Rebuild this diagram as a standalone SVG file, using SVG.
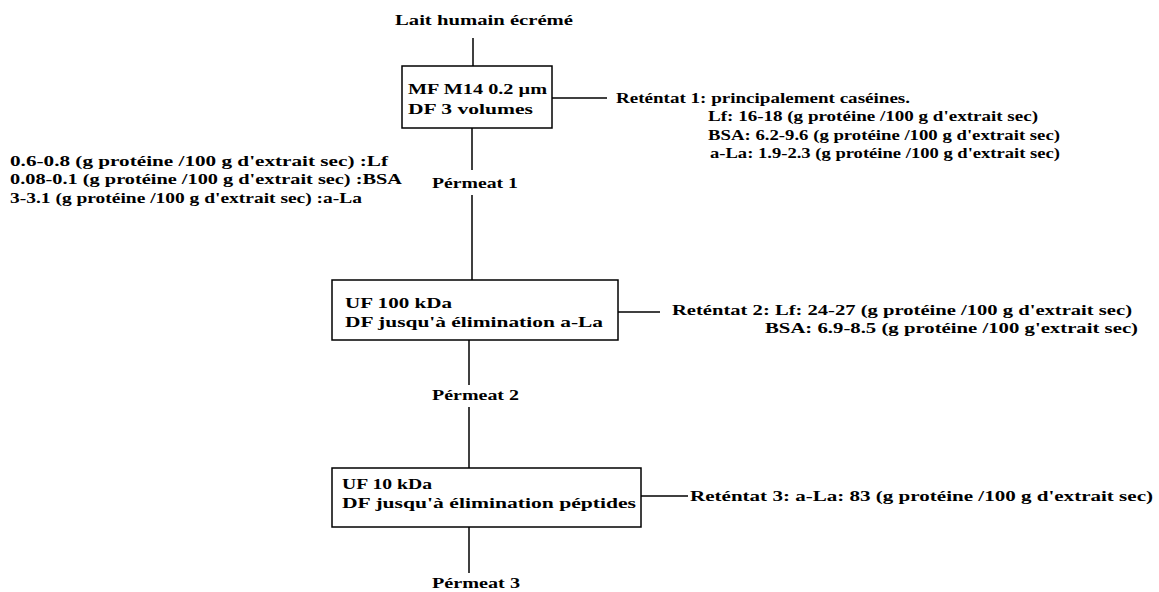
<svg xmlns="http://www.w3.org/2000/svg" width="1159" height="592" viewBox="0 0 1159 592">
<style>
text{font-family:"Liberation Serif","Times New Roman",serif;font-weight:bold;font-size:15px;fill:#000}
.box{fill:#fff;stroke:#000;stroke-width:1.5}
.ln{stroke:#000;stroke-width:1.5;fill:none}
</style>
<rect width="1159" height="592" fill="#fff"/>
<g id="connectors">
<line class="ln" x1="473" y1="38" x2="473" y2="66"/>
<line class="ln" x1="552" y1="98" x2="607" y2="98"/>
<line class="ln" x1="472" y1="128" x2="472" y2="170"/>
<line class="ln" x1="472" y1="195" x2="472" y2="280"/>
<line class="ln" x1="618" y1="312" x2="660" y2="312"/>
<line class="ln" x1="469" y1="340" x2="469" y2="385"/>
<line class="ln" x1="469" y1="407" x2="469" y2="468"/>
<line class="ln" x1="641" y1="496" x2="688" y2="496"/>
<line class="ln" x1="469" y1="527" x2="469" y2="573"/>
</g>
<g id="source"><text x="395" y="25" textLength="178" lengthAdjust="spacingAndGlyphs">Lait humain écrémé</text></g>
<g id="mf">
<rect class="box" x="402" y="66" width="150" height="62"/>
<text x="408" y="94" textLength="139" lengthAdjust="spacingAndGlyphs">MF M14 0.2 µm</text>
<text x="408" y="114" textLength="125" lengthAdjust="spacingAndGlyphs">DF 3 volumes</text>
</g>
<g id="retentat1">
<text x="616" y="103" textLength="294" lengthAdjust="spacingAndGlyphs">Reténtat 1: principalement caséines.</text>
<text x="708" y="121" textLength="330" lengthAdjust="spacingAndGlyphs">Lf: 16-18 (g protéine /100  g d'extrait sec)</text>
<text x="708" y="140" textLength="352" lengthAdjust="spacingAndGlyphs">BSA: 6.2-9.6 (g protéine /100  g d'extrait sec)</text>
<text x="710" y="158" textLength="350" lengthAdjust="spacingAndGlyphs">a-La: 1.9-2.3 (g protéine /100  g d'extrait sec)</text>
</g>
<g id="permeat1-composition">
<text x="10" y="166" textLength="378" lengthAdjust="spacingAndGlyphs">0.6-0.8 (g protéine /100  g d'extrait sec) :Lf</text>
<text x="10" y="184" textLength="392" lengthAdjust="spacingAndGlyphs">0.08-0.1 (g protéine /100  g d'extrait sec) :BSA</text>
<text x="10" y="203" textLength="352" lengthAdjust="spacingAndGlyphs">3-3.1 (g protéine /100  g d'extrait sec) :a-La</text>
</g>
<g id="permeat1"><text x="432" y="188" textLength="86" lengthAdjust="spacingAndGlyphs">Pérmeat 1</text></g>
<g id="uf100">
<rect class="box" x="332" y="280" width="286" height="60"/>
<text x="345" y="308" textLength="107" lengthAdjust="spacingAndGlyphs">UF 100 kDa</text>
<text x="345" y="327" textLength="258" lengthAdjust="spacingAndGlyphs">DF jusqu'à élimination a-La</text>
</g>
<g id="retentat2">
<text x="672" y="315" textLength="460" lengthAdjust="spacingAndGlyphs">Reténtat 2: Lf: 24-27 (g protéine /100  g d'extrait sec)</text>
<text x="765" y="333" textLength="373" lengthAdjust="spacingAndGlyphs">BSA: 6.9-8.5 (g protéine /100  g'extrait sec)</text>
</g>
<g id="permeat2"><text x="432" y="400" textLength="87" lengthAdjust="spacingAndGlyphs">Pérmeat 2</text></g>
<g id="uf10">
<rect class="box" x="332" y="468" width="309" height="59"/>
<text x="342" y="489" textLength="90" lengthAdjust="spacingAndGlyphs">UF 10 kDa</text>
<text x="342" y="508" textLength="294" lengthAdjust="spacingAndGlyphs">DF jusqu'à élimination péptides</text>
</g>
<g id="retentat3"><text x="690" y="501" textLength="463" lengthAdjust="spacingAndGlyphs">Reténtat 3: a-La: 83 (g protéine /100  g d'extrait sec)</text></g>
<g id="permeat3"><text x="432" y="588" textLength="88" lengthAdjust="spacingAndGlyphs">Pérmeat 3</text></g>
</svg>
